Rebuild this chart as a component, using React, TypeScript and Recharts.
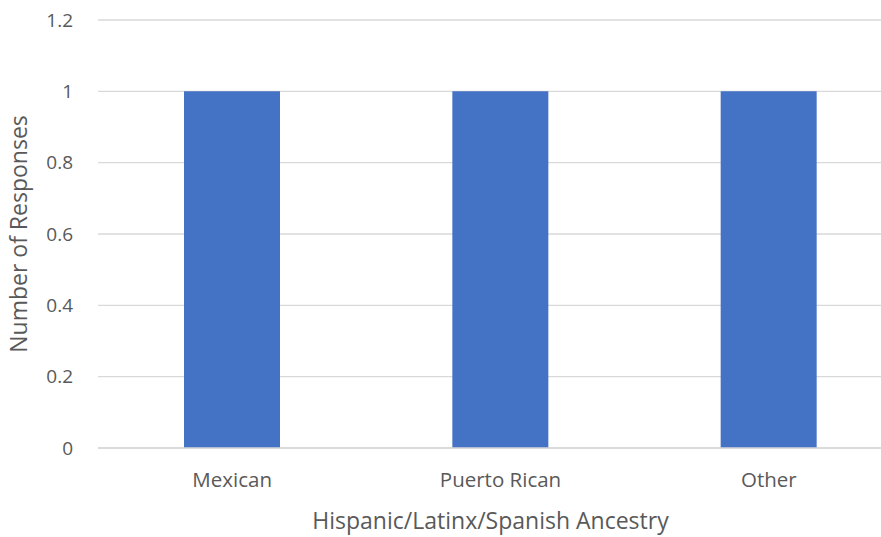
import React from 'react';
import { BarChart, Bar, XAxis, YAxis, CartesianGrid } from 'recharts';

const categories = ['Mexican', 'Puerto Rican', 'Other'];
const responses = [1, 1, 1];
const yTicks = [0, 0.2, 0.4, 0.6, 0.8, 1, 1.2];

const data = categories.map((c, i) => ({ name: c, value: responses[i] }));

const font = '"Open Sans", "Noto Sans", sans-serif';

export default function App() {
  return (
    <div style={{ position: 'absolute', left: 0, top: 0, width: 881, height: 537, overflow: 'hidden', background: '#fff' }}>
      <BarChart
        width={903}
        height={537}
        data={data}
        margin={{ top: 20, right: 0, bottom: 0, left: 0 }}
        barCategoryGap={86}
      >
        <CartesianGrid vertical={false} stroke="#d9d9d9" strokeWidth={1.3} />
        <XAxis
          dataKey="name"
          axisLine={{ stroke: '#d9d9d9', strokeWidth: 1.3 }}
          tickLine={false}
          tickSize={0}
          tickMargin={24}
          height={89}
          tick={{ fill: '#595959', fontSize: 20.5, fontFamily: font }}
          label={{ value: 'Hispanic/Latinx/Spanish Ancestry', position: 'insideBottom', offset: 8, dx: -10, fill: '#595959', fontSize: 23, fontFamily: font }}
        />
        <YAxis
          domain={[0, 1.2]}
          ticks={yTicks}
          axisLine={false}
          tickLine={false}
          tickSize={0}
          tickMargin={25}
          width={98}
          tick={{ fill: '#595959', fontSize: 19, fontFamily: font }}
          label={{ value: 'Number of Responses', angle: -90, position: 'insideLeft', dx: 14, fill: '#595959', fontSize: 23, fontFamily: font, style: { textAnchor: 'middle' } }}
        />
        <Bar dataKey="value" fill="#4472c4" isAnimationActive={false} />
      </BarChart>
    </div>
  );
}
